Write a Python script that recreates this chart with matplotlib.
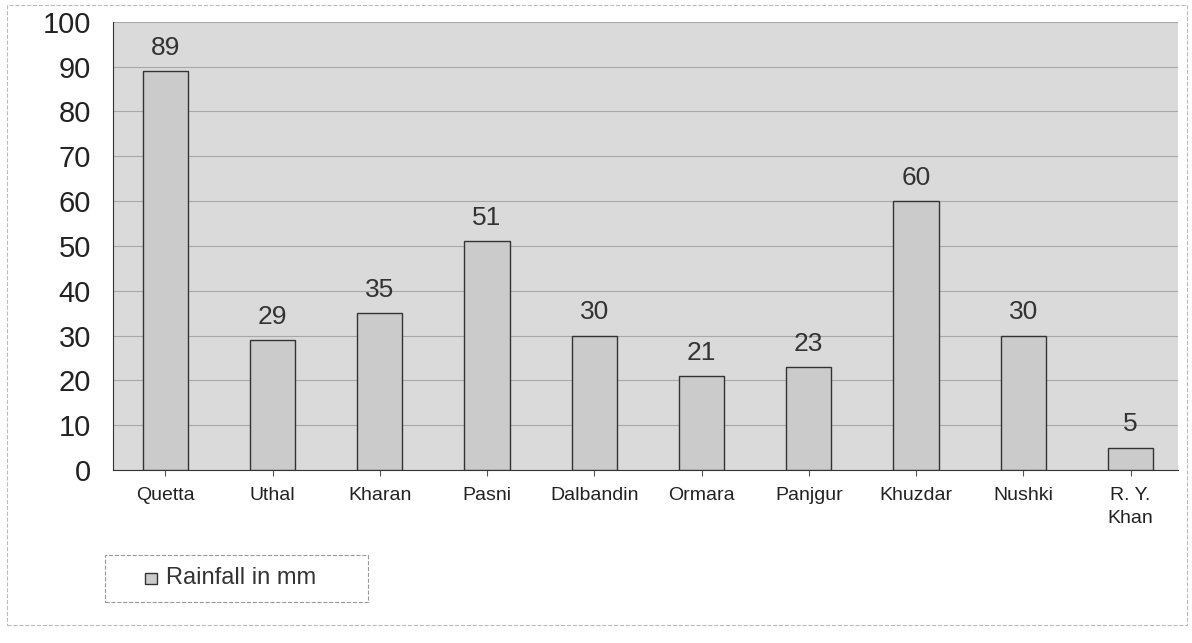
import matplotlib.pyplot as plt
from matplotlib.patches import Rectangle

# rainfall per station
stations = ['Quetta', 'Uthal', 'Kharan', 'Pasni', 'Dalbandin', 'Ormara',
            'Panjgur', 'Khuzdar', 'Nushki', 'R. Y.\nKhan']
rainfall = [89, 29, 35, 51, 30, 21, 23, 60, 30, 5]
yticks = [0, 10, 20, 30, 40, 50, 60, 70, 80, 90, 100]
series_name = 'Rainfall in mm'

plt.rcParams['font.family'] = ['Liberation Sans', 'DejaVu Sans']

fig = plt.figure(figsize=(11.92, 6.43), dpi=100)
ax = fig.add_axes([0.095, 0.269, 0.893, 0.697])

x = range(len(stations))
bars = ax.bar(x, rainfall, width=0.42, color='#cbcbcb', edgecolor='#333333',
              linewidth=1.0, zorder=3, label=series_name)

for xi, v in zip(x, rainfall):
    ax.text(xi, v + 2.5, str(v), ha='center', va='bottom', fontsize=19,
            color='#333333')

ax.set_facecolor('#dadada')
ax.set_xlim(-0.485, 9.44)
ax.set_ylim(0, 100)
ax.set_yticks(yticks)
ax.set_yticklabels([str(t) for t in yticks], fontsize=21, color='#222222')
ax.set_xticks(list(x))
ax.set_xticklabels(stations, fontsize=14, color='#222222', linespacing=1.5)
ax.tick_params(axis='y', length=0, pad=16)
ax.tick_params(axis='x', length=4, color='#555555', pad=8)
ax.grid(axis='y', color='#a8a8a8', linewidth=0.8, zorder=1)

for s in ['top', 'right']:
    ax.spines[s].set_visible(False)
ax.spines['left'].set_color('#333333')
ax.spines['bottom'].set_color('#333333')

# legend box at bottom left, drawn by hand for the wide padding
fig.patches.append(Rectangle((0.088, 0.064), 0.221, 0.073,
                             transform=fig.transFigure, fill=False,
                             edgecolor='#999999', linestyle='--',
                             linewidth=0.8))
fig.patches.append(Rectangle((0.122, 0.092), 0.0095, 0.0175,
                             transform=fig.transFigure, facecolor='#cbcbcb',
                             edgecolor='#333333', linewidth=1.0))
fig.text(0.1395, 0.1005, series_name, fontsize=17, color='#333333',
         va='center', ha='left')

# dashed outer border
fig.patches.append(Rectangle((0.006, 0.028), 0.99, 0.965,
                             transform=fig.transFigure, fill=False,
                             edgecolor='#bbbbbb', linestyle='--',
                             linewidth=0.8))

fig.savefig('out.png', dpi=100)
